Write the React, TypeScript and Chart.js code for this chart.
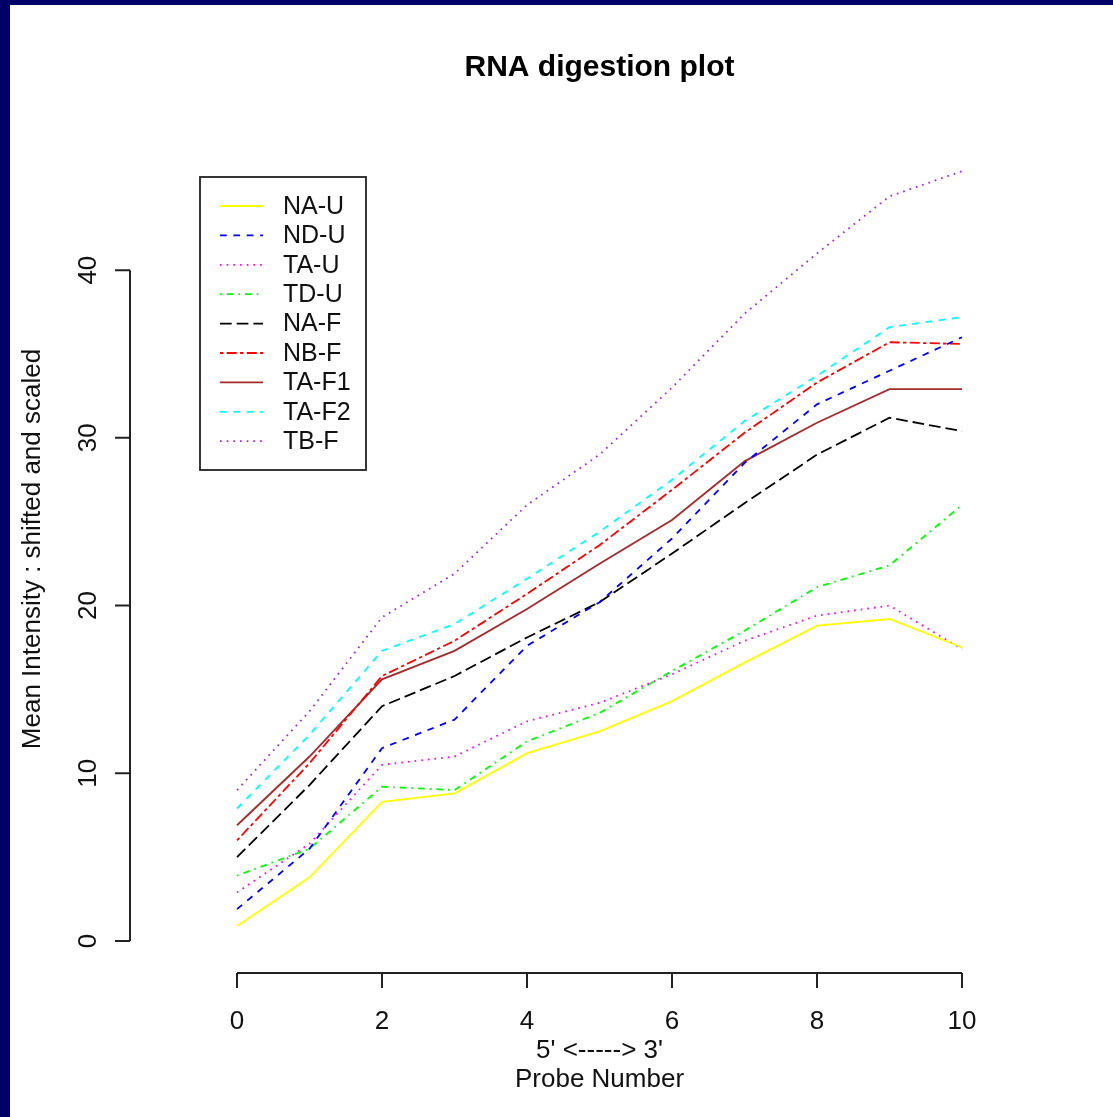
import React, { useEffect, useRef } from "react";
import { Chart, registerables } from "chart.js";

Chart.register(...registerables);

const probes = [0, 1, 2, 3, 4, 5, 6, 7, 8, 9, 10];
const xTicks = [0, 2, 4, 6, 8, 10];
const yTicks = [0, 10, 20, 30, 40];

const seriesNames = ["NA-U", "ND-U", "TA-U", "TD-U", "NA-F", "NB-F", "TA-F1", "TA-F2", "TB-F"];
const NA_U = [0.9, 3.8, 8.3, 8.8, 11.2, 12.5, 14.3, 16.6, 18.8, 19.2, 17.5];
const ND_U = [1.9, 5.5, 11.5, 13.2, 17.6, 20.2, 24.0, 28.5, 32.0, 34.0, 36.0];
const TA_U = [2.9, 5.8, 10.5, 11.0, 13.1, 14.2, 15.9, 17.9, 19.4, 20.0, 17.4];
const TD_U = [3.9, 5.5, 9.2, 9.0, 11.9, 13.6, 16.1, 18.5, 21.1, 22.4, 26.0];
const NA_F = [5.0, 9.3, 14.0, 15.8, 18.1, 20.2, 23.1, 26.1, 29.0, 31.2, 30.4];
const NB_F = [6.0, 10.6, 15.8, 17.9, 20.7, 23.6, 26.9, 30.3, 33.3, 35.7, 35.6];
const TA_F1 = [6.9, 11.0, 15.6, 17.3, 19.8, 22.5, 25.1, 28.6, 30.9, 32.9, 32.9];
const TA_F2 = [7.9, 12.3, 17.3, 18.9, 21.6, 24.4, 27.5, 31.0, 33.7, 36.6, 37.2];
const TB_F = [9.0, 13.7, 19.3, 21.9, 26.0, 29.0, 33.0, 37.4, 41.0, 44.4, 45.9];

const seriesValues = [NA_U, ND_U, TA_U, TD_U, NA_F, NB_F, TA_F1, TA_F2, TB_F];
const seriesColors = ["#ffff00", "#0000ff", "#ff00ff", "#00ff00", "#000000", "#ff0000", "#a52a2a", "#00ffff", "#a020f0"];

const S = 1.67;
const solid: number[] = [];
const dashed = [4 * S, 4 * S];
const dotted = [1 * S, 3 * S];
const dotdash = [1 * S, 3 * S, 4 * S, 3 * S];
const longdash = [7 * S, 3 * S];
const twodash = [2 * S, 2 * S, 6 * S, 2 * S];
const seriesDashes = [solid, dashed, dotted, dotdash, longdash, twodash, solid, dashed, dotted];

const FONT = '"Liberation Sans", Arial, Helvetica, sans-serif';

const rPlot = {
  id: "rPlot",
  beforeDraw(chart: any) {
    const ctx = chart.ctx;
    ctx.save();
    ctx.fillStyle = "#000066";
    ctx.fillRect(0, 0, chart.width, chart.height);
    ctx.fillStyle = "#ffffff";
    ctx.fillRect(10, 5, chart.width - 10, chart.height - 5);
    ctx.restore();
  },
  afterDraw(chart: any) {
    const ctx = chart.ctx;
    const xs = chart.scales.x;
    const ys = chart.scales.y;
    const area = chart.chartArea;
    ctx.save();
    ctx.strokeStyle = "#222222";
    ctx.fillStyle = "#111111";
    ctx.lineWidth = 2;
    ctx.setLineDash([]);

    // x axis
    const axY = area.bottom;
    const x0 = xs.getPixelForValue(xTicks[0]);
    const x1 = xs.getPixelForValue(xTicks[xTicks.length - 1]);
    ctx.beginPath();
    ctx.moveTo(x0, axY);
    ctx.lineTo(x1, axY);
    xTicks.forEach((t) => {
      const px = xs.getPixelForValue(t);
      ctx.moveTo(px, axY);
      ctx.lineTo(px, axY + 15);
    });
    ctx.stroke();
    ctx.font = `26px ${FONT}`;
    ctx.textAlign = "center";
    ctx.textBaseline = "middle";
    xTicks.forEach((t) => {
      ctx.fillText(String(t), xs.getPixelForValue(t), 1022);
    });

    // y axis
    const axX = area.left;
    const y0 = ys.getPixelForValue(yTicks[0]);
    const y1 = ys.getPixelForValue(yTicks[yTicks.length - 1]);
    ctx.beginPath();
    ctx.moveTo(axX, y0);
    ctx.lineTo(axX, y1);
    yTicks.forEach((t) => {
      const py = ys.getPixelForValue(t);
      ctx.moveTo(axX, py);
      ctx.lineTo(axX - 15, py);
    });
    ctx.stroke();
    yTicks.forEach((t) => {
      const py = ys.getPixelForValue(t);
      ctx.save();
      ctx.translate(89, py);
      ctx.rotate(-Math.PI / 2);
      ctx.fillText(String(t), 0, 0);
      ctx.restore();
    });

    // axis titles
    const cx = (x0 + x1) / 2;
    ctx.fillText("5' <-----> 3'", cx, 1051);
    ctx.fillText("Probe Number", cx, 1080);
    ctx.save();
    ctx.translate(33, 549);
    ctx.rotate(-Math.PI / 2);
    ctx.fillText("Mean Intensity : shifted and scaled", 0, 0);
    ctx.restore();

    // main title
    ctx.font = `bold 30px ${FONT}`;
    ctx.fillStyle = "#000000";
    ctx.fillText("RNA digestion plot", cx, 68);

    // legend
    ctx.fillStyle = "#ffffff";
    ctx.fillRect(200, 177, 166, 293);
    ctx.strokeStyle = "#222222";
    ctx.lineWidth = 1.8;
    ctx.strokeRect(200, 177, 166, 293);
    ctx.font = `25px ${FONT}`;
    ctx.textAlign = "left";
    chart.data.datasets.forEach((ds: any, i: number) => {
      const ry = 206 + i * 29.4;
      ctx.strokeStyle = ds.borderColor;
      ctx.lineWidth = ds.borderWidth;
      ctx.setLineDash(ds.borderDash || []);
      ctx.beginPath();
      ctx.moveTo(220, ry);
      ctx.lineTo(263, ry);
      ctx.stroke();
      ctx.setLineDash([]);
      ctx.fillStyle = "#111111";
      ctx.fillText(ds.label, 283, ry + 1);
    });
    ctx.restore();
  },
};

export default function App() {
  const ref = useRef<HTMLCanvasElement | null>(null);
  useEffect(() => {
    document.body.style.margin = "0";
    if (!ref.current) return;
    const datasets = seriesNames.map((name, i) => ({
      label: name,
      data: probes.map((p, j) => ({ x: p, y: seriesValues[i][j] })),
      borderColor: seriesColors[i],
      backgroundColor: seriesColors[i],
      borderWidth: 1.8,
      borderDash: seriesDashes[i],
      pointRadius: 0,
      tension: 0,
      fill: false,
    }));
    const chart = new Chart(ref.current, {
      type: "line",
      data: { datasets },
      options: {
        responsive: false,
        animation: false,
        devicePixelRatio: 1,
        layout: { padding: { left: 130, right: 122, top: 141, bottom: 144 } },
        plugins: { legend: { display: false }, title: { display: false }, tooltip: { enabled: false } },
        scales: {
          x: { type: "linear", display: false, min: -1.476, max: 10.4 },
          y: { type: "linear", display: false, min: -1.908, max: 47.7 },
        },
      },
      plugins: [rPlot],
    });
    return () => chart.destroy();
  }, []);
  return <canvas ref={ref} width={1113} height={1117} style={{ display: "block" }} />;
}
